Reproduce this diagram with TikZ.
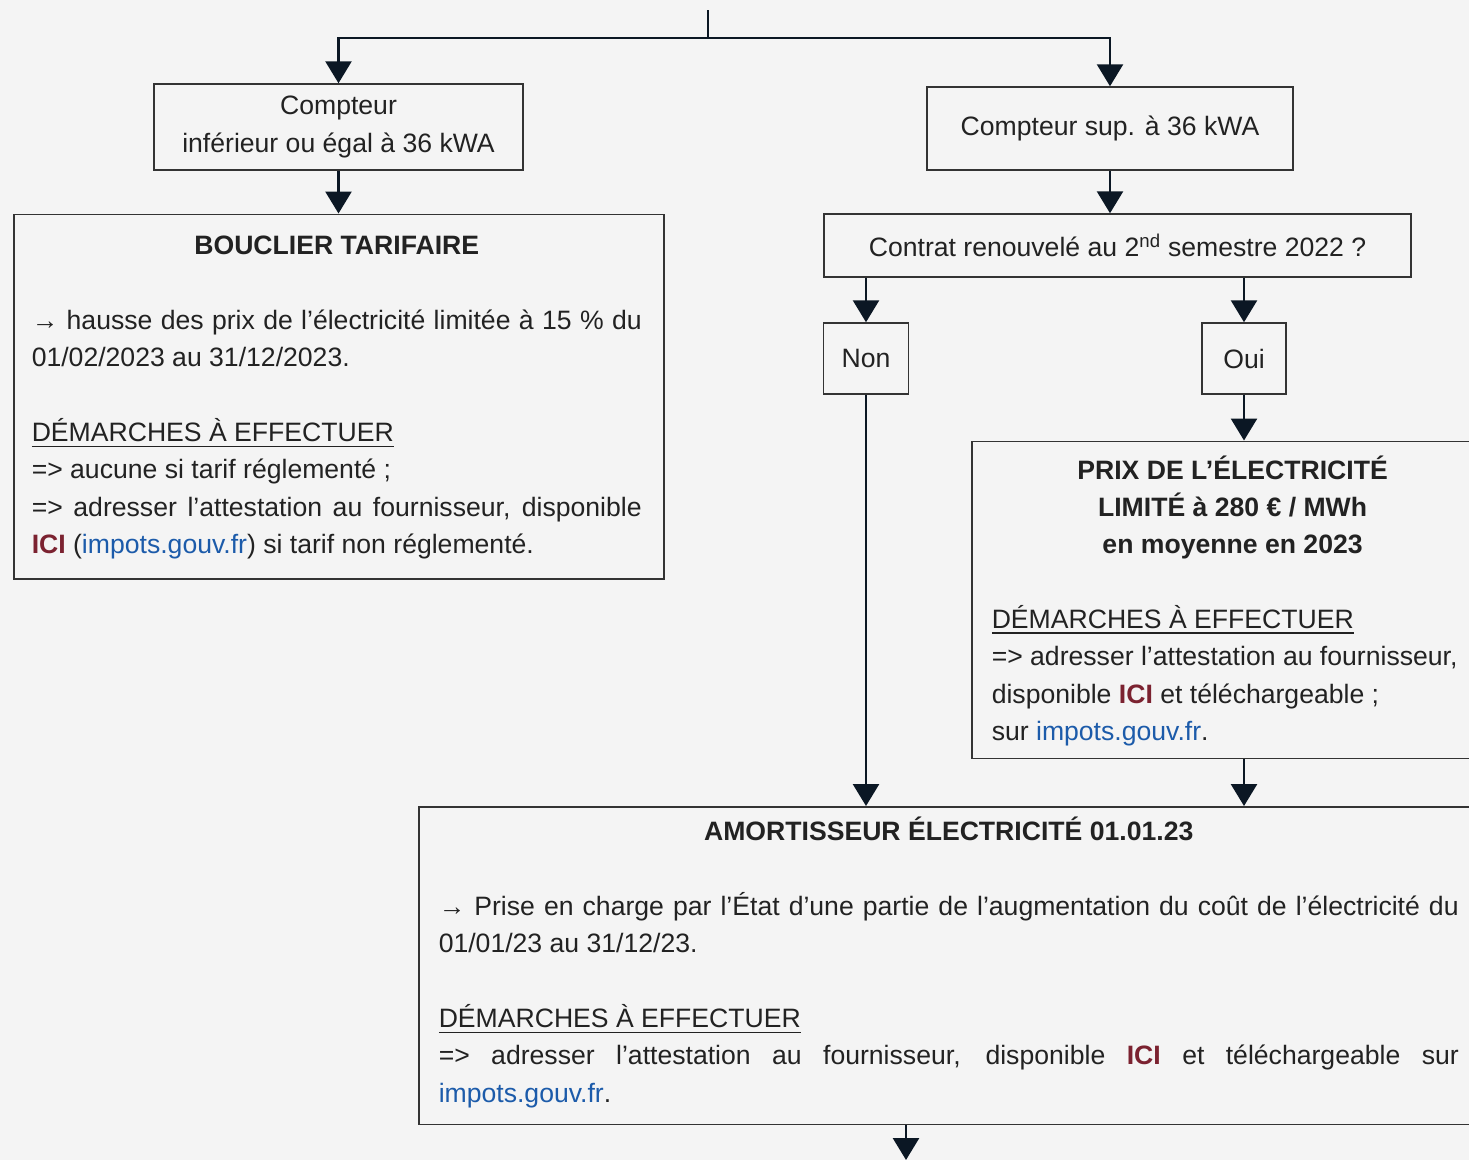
\documentclass[tikz,border=0pt]{standalone}
\usepackage{fontspec}
\setmainfont{Liberation Sans}
\usetikzlibrary{arrows.meta}
\definecolor{bg}{HTML}{F4F4F4}
\definecolor{txt}{HTML}{222222}
\definecolor{edgecol}{HTML}{333333}
\definecolor{conn}{HTML}{0B1724}
\definecolor{icired}{HTML}{7B2230}
\definecolor{linkblue}{HTML}{1C5BAA}
\newcommand\bodyfont{\fontsize{26.6}{37.35}\selectfont}
\newcommand\ici{\textcolor{icired}{\textbf{ICI}}}
\newcommand\impots{\textcolor{linkblue}{impots.gouv.fr}}
\newcommand\myul[1]{\setbox0=\hbox{#1}\rlap{\rule[-5.5pt]{\wd0}{1.5pt}}\box0}
\newcommand\jline[1]{\hbox to\linewidth{#1}}
\newcommand\ctrline[1]{\hbox to\linewidth{\hfil#1\hfil}}
\newcommand\lline[1]{\hbox to\linewidth{#1\hfil}}
\newcommand\firstrule{\rule{0pt}{25pt}}
\newcommand\blankline{\vspace{37.35pt}}
\tikzset{
  boxstyle/.style={draw=edgecol, line width=1.5pt, text=txt, font=\bodyfont},
  smallbox/.style={boxstyle, align=center, inner sep=0pt},
  bigbox/.style={boxstyle, anchor=north west, inner ysep=0pt},
  conline/.style={draw=conn, line width=2.7pt},
  arr/.style={conline, -{Triangle[width=26pt,length=22pt]}, color=conn},
}
\begin{document}
\begin{tikzpicture}[x=1pt,y=-1pt]
\fill[bg] (0,0) rectangle (1469,1160);
\useasboundingbox (0,0) rectangle (1469,1160);
\clip (0,0) rectangle (1469,1160);

% small boxes
\node[smallbox, minimum width=369pt, minimum height=86pt] (c1) at (338.5,127) {Compteur\\inférieur ou égal à 36 kWA};
\node[smallbox, minimum width=366pt, minimum height=83pt] (c2) at (1110,128.5) {Compteur sup. à 36 kWA};
\node[smallbox, minimum width=587pt, minimum height=63pt] (contrat) at (1117.5,245.5) {Contrat renouvelé au 2\textsuperscript{nd} semestre 2022 ?};
\node[smallbox, minimum width=85pt, minimum height=71pt] (non) at (866,358.5) {Non};
\node[smallbox, minimum width=84pt, minimum height=71pt] (oui) at (1244,358.5) {Oui};

% big boxes
\node[bigbox, inner xsep=18pt] (bouclier) at (13,213.5) {\begin{minipage}[t][364.5pt][t]{610pt}\bodyfont
\vspace*{15.5pt}
\ctrline{\firstrule\bfseries BOUCLIER TARIFAIRE}
\blankline
\jline{→ hausse des prix de l’électricité limitée à 15 \% du}
\lline{01/02/2023 au 31/12/2023.}
\blankline
\lline{\myul{DÉMARCHES À EFFECTUER}}
\lline{=> aucune si tarif réglementé ;}
\jline{=> adresser l’attestation au fournisseur, disponible}
\lline{\ici{} (\impots) si tarif non réglementé.}
\end{minipage}\hspace*{4pt}};

\node[bigbox, inner xsep=20pt] (prix) at (971,440.5) {\begin{minipage}[t][317pt][t]{481.6pt}\bodyfont
\vspace*{12.8pt}
\ctrline{\firstrule\bfseries PRIX DE L’ÉLECTRICITÉ}
\ctrline{\bfseries LIMITÉ à 280 € / MWh}
\ctrline{\bfseries en moyenne en 2023}
\blankline
\lline{\myul{DÉMARCHES À EFFECTUER}}
\lline{=> adresser l’attestation au fournisseur,}
\lline{disponible \ici\ et téléchargeable ;}
\lline{sur \impots.}
\end{minipage}};

\node[bigbox, inner xsep=20pt] (amort) at (418,806) {\begin{minipage}[t][317.5pt][t]{1020pt}\bodyfont
\vspace*{9pt}
\ctrline{\firstrule\bfseries AMORTISSEUR ÉLECTRICITÉ 01.01.23}
\blankline
\jline{→ Prise en charge par l’État d’une partie de l’augmentation du coût de l’électricité du}
\lline{01/01/23 au 31/12/23.}
\blankline
\lline{\myul{DÉMARCHES À EFFECTUER}}
\jline{=> adresser l’attestation au fournisseur, disponible \ici\ et téléchargeable sur}
\lline{\impots.}
\end{minipage}};

% connectors
\coordinate (top) at (708,10);
\coordinate (split) at (708,38);
\coordinate (bot) at (906,1160);
\draw[conline] (top) -- (split);
\draw[arr] (split) -| (c1.north);
\draw[arr] (split) -| (c2.north);
\draw[arr] (c1.south) -- (c1.south |- bouclier.north);
\draw[arr] (c2.south) -- (c2.south |- contrat.north);
\draw[arr] (non.north |- contrat.south) -- (non.north);
\draw[arr] (oui.north |- contrat.south) -- (oui.north);
\draw[arr] (non.south) -- (non.south |- amort.north);
\draw[arr] (oui.south) -- (oui.south |- prix.north);
\draw[arr] (oui.south |- prix.south) -- (oui.south |- amort.north);
\draw[arr] (amort.south -| bot) -- (bot);
\end{tikzpicture}
\end{document}
